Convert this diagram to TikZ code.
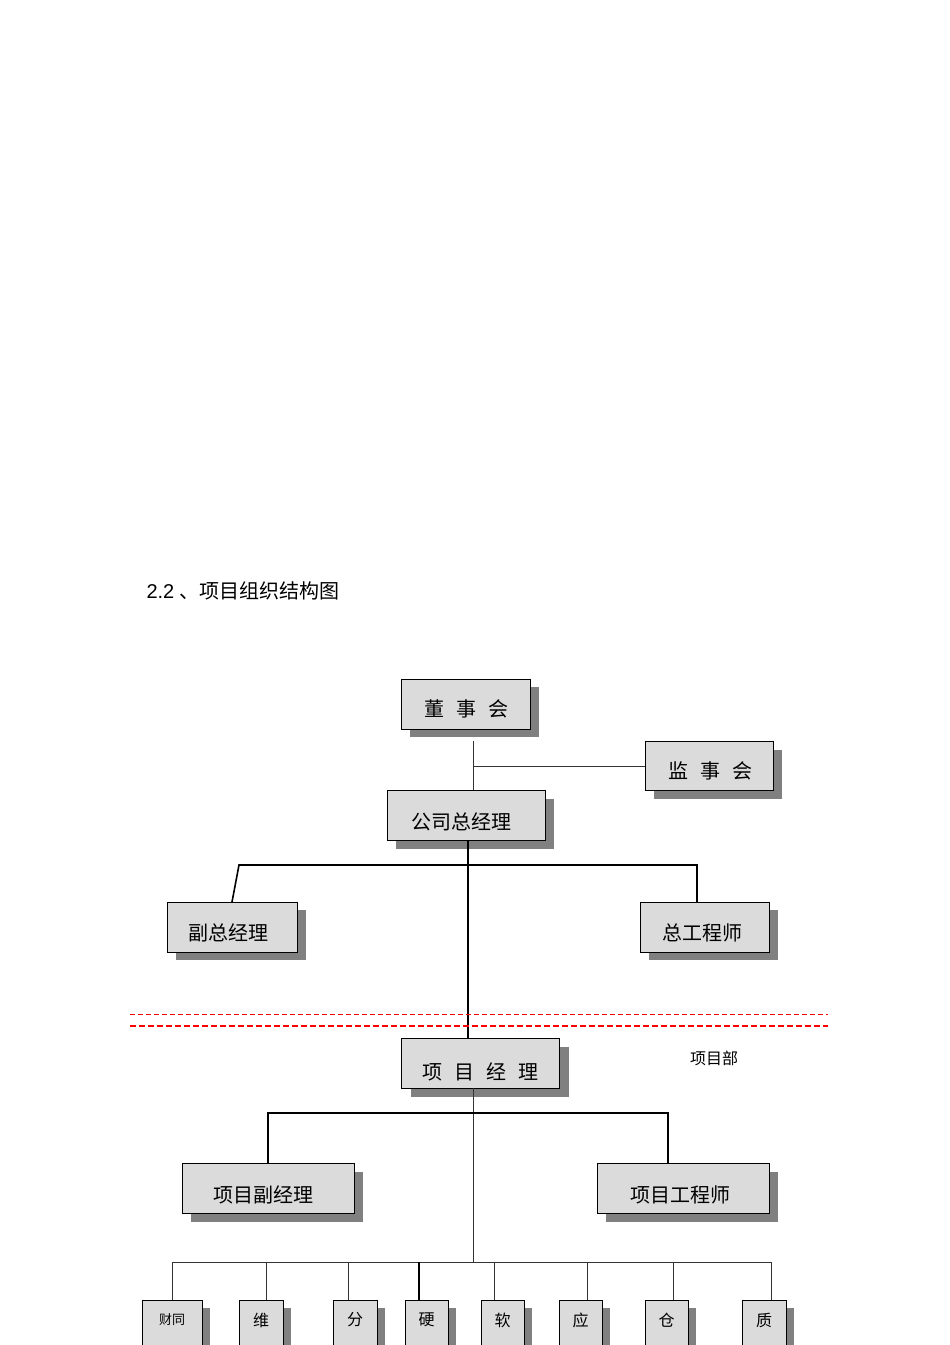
\documentclass[tikz,border=0pt]{standalone}
\usepackage{fontspec}
\setmainfont{Liberation Sans}
\newfontfamily\cjk{Noto Sans CJK SC}
\begin{document}
\begin{tikzpicture}[x=1pt,y=-1pt,
  sh/.style={fill=black!50,draw=none},
  bx/.style={fill=black!14,draw=black,line width=0.8pt},
  thin/.style={line width=0.6pt,draw=black!80},
  thick/.style={line width=1.6pt}]
\useasboundingbox (0,0) rectangle (950,1345);
\fill[white] (0,0) rectangle (950,1345);
\node[anchor=west,font=\fontsize{20}{20}\selectfont] (title) at (143,591) {2.2 \cjk 、项目组织结构图};
% box macro via pics
\newcommand\mybox[7]{%
  \fill[sh] (#2+#6,#3+#7) rectangle (#4+#6,#5+#7);
  \draw[bx] (#2,#3) rectangle (#4,#5);
  \coordinate (#1-n) at ({(#2+#4)/2},#3);
  \coordinate (#1-s) at ({(#2+#4)/2},#5);
  \coordinate (#1-w) at (#2,{(#3+#5)/2});}
\mybox{dsh}{401}{679}{530}{729}{9}{8}
\node[font=\cjk\fontsize{20}{20}\selectfont] (t1) at (466,709) {董\hspace{0.6em}事\hspace{0.6em}会};
\mybox{jsh}{645}{741}{773}{790}{9}{9}
\node[font=\cjk\fontsize{20}{20}\selectfont] (t2) at (710,771) {监\hspace{0.6em}事\hspace{0.6em}会};
\mybox{gs}{387}{790}{545}{840}{9}{9}
\node[font=\cjk\fontsize{20}{20}\selectfont] (t3) at (461,822) {公司总经理};
\mybox{fz}{167}{902}{297}{952}{9}{8}
\node[font=\cjk\fontsize{20}{20}\selectfont] (t4) at (228,933) {副总经理};
\mybox{zg}{640}{902}{769}{952}{9}{8}
\node[font=\cjk\fontsize{20}{20}\selectfont] (t5) at (702,933) {总工程师};
\mybox{xm}{401}{1038}{559}{1088}{10}{9}
\node[font=\cjk\fontsize{20}{20}\selectfont] (t6) at (480,1072) {项\hspace{0.6em}目\hspace{0.6em}经\hspace{0.6em}理};
\mybox{xf}{182}{1163}{354}{1213}{9}{9}
\node[font=\cjk\fontsize{20}{20}\selectfont] (t7) at (263,1195) {项目副经理};
\mybox{xg}{597}{1163}{769}{1213}{9}{9}
\node[font=\cjk\fontsize{20}{20}\selectfont] (t8) at (680,1195) {项目工程师};
\node[font=\cjk\fontsize{16}{16}\selectfont] (xmb) at (714,1058) {项目部};
% connectors
\draw[thin] (473,741) -- (473,790);
\coordinate (j) at (473,766);
\draw[thin] (j) -- (jsh-w |- j);
\draw[thick] (468,840) -- (468,1038);
\draw[thick] (fz-n) -- (239,865) -- (697,865) -- (697,902);
\draw[red,dashed,line width=0.6pt,dash pattern=on 5pt off 3pt] (130,1014) -- (828,1014);
\draw[red,line width=1.6pt,dash pattern=on 6pt off 3pt] (130,1026) -- (828,1026);
\draw[thin] (473,1088) -- (473,1262);
\draw[thick] (268,1163) -- (268,1113) -- (668,1113) -- (668,1163);
\draw[thin] (172,1262) -- (771,1262);
\foreach \a/\b/\t/\c/\w in {142/202/{\fontsize{13}{13}\selectfont 财同}/172/thin,239/283/维/266/thin,333/377/分/348/thin,405/448/硬/419/thick,481/524/软/494/thin,559/602/应/587/thin,645/688/仓/673/thin,742/786/质/771/thin}{
  \fill[sh] (\a+8,1308) rectangle (\b+8,1345);
  \draw[bx] (\a,1300) -- (\a,1346) (\a,1300) -- (\b,1300) -- (\b,1346);
  \fill[black!14] (\a+0.5,1300.5) rectangle (\b-0.5,1345);
  \draw[line width=0.8pt] (\a,1300) -- (\a,1346) (\a,1300) -- (\b,1300) -- (\b,1346);
  \node[font=\cjk\fontsize{16}{16}\selectfont] at ({(\a+\b)/2},1320) {\t};
  \draw[\w] (\c,1262) -- (\c,1300);
}
\end{tikzpicture}
\end{document}
